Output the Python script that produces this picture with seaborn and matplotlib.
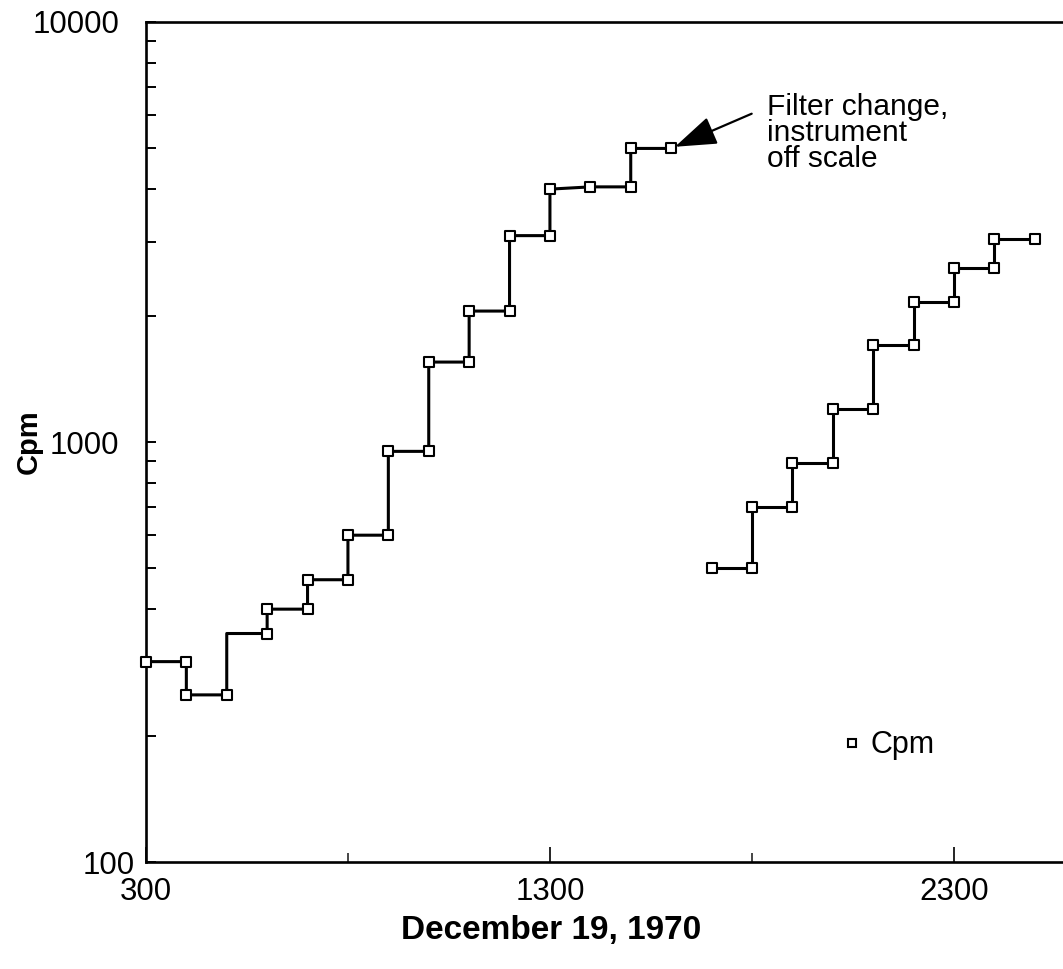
import numpy as np
import pandas as pd
import matplotlib
matplotlib.use("Agg")
import matplotlib.pyplot as plt
import matplotlib.ticker as mticker
from matplotlib.lines import Line2D
import seaborn as sns

# first run (before the filter change), stepped readings
times_a = [300, 400, 400, 500, 500, 600, 600, 700, 700, 800, 800, 900, 900,
           1000, 1000, 1100, 1100, 1200, 1200, 1300, 1300, 1400, 1500, 1500, 1600]
cpm_a = [300, 300, 250, 250, 350, 350, 400, 400, 470, 470, 600, 600, 950,
         950, 1550, 1550, 2050, 2050, 3100, 3100, 4000, 4050, 4050, 5000, 5000]
# corner at (500, 350) has no square in the original
marked_a = [True] * len(times_a)
marked_a[4] = False

# second run (after the filter change)
times_b = [1700, 1800, 1800, 1900, 1900, 2000, 2000, 2100, 2100, 2200, 2200,
           2300, 2300, 2400, 2400, 2500]
cpm_b = [500, 500, 700, 700, 890, 890, 1200, 1200, 1700, 1700, 2150, 2150,
         2600, 2600, 3050, 3050]
marked_b = [True] * len(times_b)

x_ticks = [300, 1300, 2300]
x_minor = [800, 1800]
y_ticks = [100, 1000, 10000]

df = pd.DataFrame({
    "time": times_a + times_b,
    "cpm": cpm_a + cpm_b,
    "run": ["a"] * len(times_a) + ["b"] * len(times_b),
    "marked": marked_a + marked_b,
})

sns.set_theme(style="ticks")
plt.rcParams["font.family"] = ["Liberation Sans", "DejaVu Sans"]
plt.rcParams["text.color"] = "black"
plt.rcParams["axes.labelcolor"] = "black"

fig = plt.figure(figsize=(10.63, 9.69), dpi=100)
ax = fig.add_axes([0.1373, 0.1104, 0.8627, 0.8669])

sns.lineplot(data=df, x="time", y="cpm", units="run", estimator=None,
             sort=False, color="black", linewidth=2.2, legend=False, ax=ax)
sns.scatterplot(data=df[df["marked"]], x="time", y="cpm", marker="s", s=42,
                facecolor="white", edgecolor="black", linewidth=1.5,
                zorder=3, clip_on=False, label="Cpm", ax=ax)

ax.set_yscale("log")
ax.set_xlim(300, 2570)
ax.set_ylim(100, 10000)
ax.set_xticks(x_ticks)
ax.set_xticks(x_minor, minor=True)
ax.xaxis.set_major_formatter(mticker.FuncFormatter(lambda v, p: f"{int(v)}"))
ax.set_yticks(y_ticks)
ax.yaxis.set_major_formatter(mticker.FuncFormatter(lambda v, p: f"{int(v)}"))
ax.yaxis.set_minor_locator(mticker.LogLocator(base=10, subs=np.arange(2, 10)))
ax.yaxis.set_minor_formatter(mticker.NullFormatter())

ax.tick_params(axis="x", which="major", direction="in", length=11, width=1.2,
               labelsize=22.5, pad=11, colors="black")
ax.tick_params(axis="x", which="minor", direction="in", length=6.5, width=1.2)
ax.tick_params(axis="y", which="both", direction="in", length=7, width=1.4,
               labelsize=22.5, pad=19, colors="black")
# the "100" label sits closer to the axis in the original
ax.yaxis.get_major_ticks()[0].set_pad(8)

for side in ["left", "bottom", "top"]:
    ax.spines[side].set_linewidth(1.9)
    ax.spines[side].set_color("black")
ax.spines["right"].set_visible(False)

ax.set_xlabel("December 19, 1970", fontsize=24, fontweight="bold")
ax.xaxis.set_label_coords(0.442, -0.063)
ax.set_ylabel("Cpm", fontsize=21, fontweight="bold")
ax.yaxis.set_label_coords(-0.113, 0.5)

# arrow to the last reading before the filter change
ax.annotate("", xy=(times_a[-1], cpm_a[-1]), xytext=(58, 25),
            textcoords="offset points",
            arrowprops=dict(arrowstyle="-|>,head_length=1.3,head_width=0.45",
                            color="black", lw=1.6, mutation_scale=20,
                            shrinkA=0, shrinkB=3))
ax.annotate("Filter change,\ninstrument\noff scale",
            xy=(times_a[-1], cpm_a[-1]), xytext=(69, 40),
            textcoords="offset points", ha="left", va="top",
            fontsize=21.5, linespacing=0.92)

handle = Line2D([], [], marker="s", linestyle="none", markersize=5.5,
                markerfacecolor="white", markeredgecolor="black",
                markeredgewidth=1.5)
ax.legend(handles=[handle], labels=["Cpm"], loc="center left",
          bbox_to_anchor=(0.757, 0.139), frameon=False, fontsize=22,
          handlelength=0.8, handletextpad=0.2, borderpad=0, borderaxespad=0)

fig.savefig("out.png", dpi=100)
